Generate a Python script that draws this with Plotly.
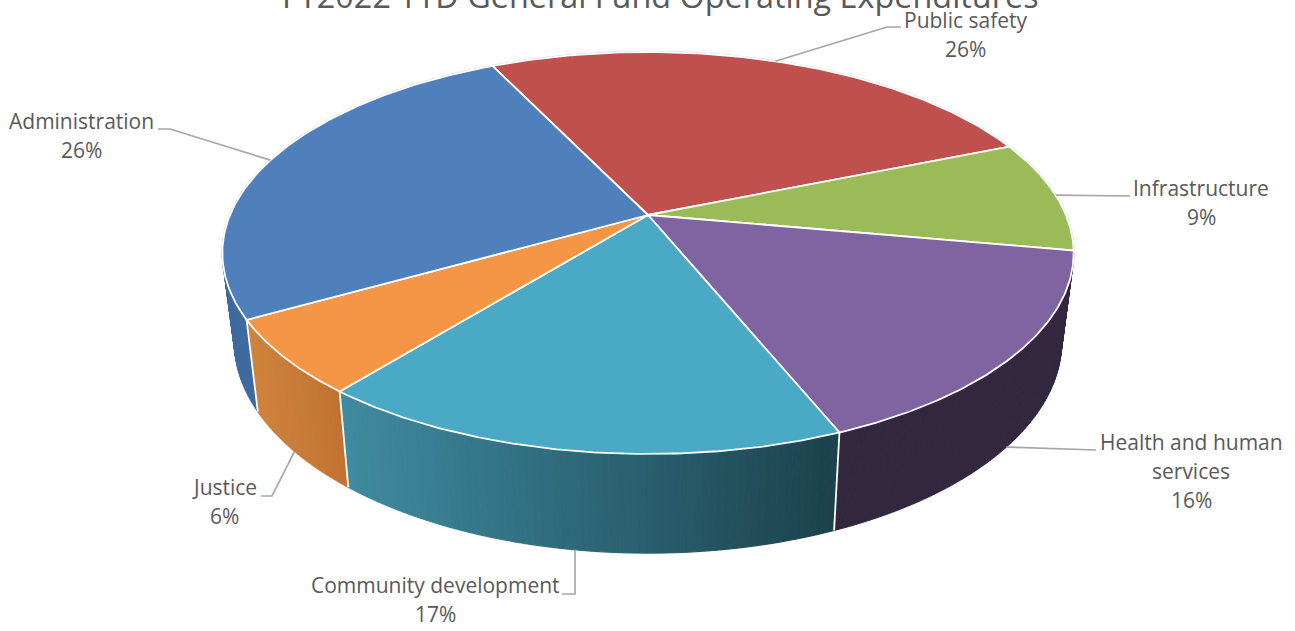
import numpy as np
import plotly.graph_objects as go

# Slices, clockwise from the boundary at the back left of the disc
categories = ["Public safety", "Infrastructure", "Health and human services",
              "Community development", "Justice", "Administration"]
shares = [26, 9, 16, 17, 6, 26]

top_colors = ["#bf504d", "#9bbb59", "#8063a1", "#4aa9c4", "#f59646", "#4f80bb"]
wall_left = ["#8a3a38", "#6f8740", "#33273f", "#3f8ba1", "#d0833c", "#40699e"]
wall_right = ["#8a3a38", "#6f8740", "#33273f", "#1b424c", "#c17232", "#3f6a9f"]

# Projection of the disc: perspective tilt about the horizontal axis
CX, CY = 648.0, 215.0
FX, FY, TILT = 418.0, 193.8, 0.189
START_DEG = -25.8
BOTTOM_SCALE_X, BOTTOM_SCALE_Y, BOTTOM_DROP = 0.972, 1.055, 86.0
VISIBLE_WALL = (100.5, 262.0)
SEAM_RANGE = (105.0, 250.0)

# Label layout: text centre of the first line, leader elbow and end, rim used by the leader
label_lines = [["Public safety"], ["Infrastructure"], ["Health and human", "services"],
               ["Community development"], ["Justice"], ["Administration"]]
label_xy = [(965, 20), (1201, 188), (1191, 442), (435, 585), (224, 487), (81, 121)]
leader_bends = [[(887, 27), (901, 27)], [(1117, 196), (1130, 196)], [(1096, 450)],
                [(575, 594), (562, 594)], [(272, 496), (261, 496)], [(170, 129), (158, 129)]]
leader_rim = ["top", "top", "bottom", "bottom", "bottom", "top"]
LINE_STEP = 29
FONT = "Open Sans"
TEXT_COLOR = "#595959"


def top_point(theta_deg):
    t = np.radians(theta_deg)
    u, v = np.sin(t), -np.cos(t)
    d = 1 - TILT * v
    return CX + FX * u / d, CY + FY * v / d


def bottom_point(theta_deg):
    x, y = top_point(theta_deg)
    return CX + BOTTOM_SCALE_X * (x - CX), CY + BOTTOM_DROP + BOTTOM_SCALE_Y * (y - CY)


def mix(c1, c2, f):
    a = [int(c1[i:i + 2], 16) for i in (1, 3, 5)]
    b = [int(c2[i:i + 2], 16) for i in (1, 3, 5)]
    return "rgb({},{},{})".format(*[round(p + (q - p) * f) for p, q in zip(a, b)])


edges = START_DEG + np.concatenate([[0], np.cumsum(shares)]) * 360 / sum(shares)
mids = (edges[:-1] + edges[1:]) / 2

fig = go.Figure()


def poly(xs, ys, fill=None, line="rgba(0,0,0,0)", width=1.0, closed=True):
    fig.add_trace(go.Scatter(
        x=list(xs), y=list(ys), mode="lines", hoverinfo="skip", showlegend=False,
        fill="toself" if closed else None, fillcolor=fill,
        line=dict(color=line, width=width),
    ))


# Hairlines around the disc and around the foot of the wall
arc = np.linspace(0, 360, 361)
rim = [top_point(a) for a in arc]
poly([p[0] for p in rim], [p[1] for p in rim], closed=False, line="#d4d4d4", width=2.4)
arc = np.linspace(*VISIBLE_WALL, 200)
foot = [bottom_point(a) for a in arc]
poly([p[0] for p in foot], [p[1] for p in foot], closed=False, line="#d4d4d4", width=2.0)

# Front wall, built from narrow strips so each slice can carry its shading
for lo, hi, c1, c2 in zip(edges[:-1], edges[1:], wall_left, wall_right):
    a0, a1 = max(lo, VISIBLE_WALL[0]), min(hi, VISIBLE_WALL[1])
    if a1 <= a0:
        continue
    steps = max(2, int((a1 - a0) / 0.8))
    cuts = np.linspace(a0, a1, steps + 1)
    x_left = bottom_point(hi)[0]
    x_right = bottom_point(lo)[0]
    for s, e in zip(cuts[:-1], cuts[1:]):
        pts = [top_point(s), top_point(e), bottom_point(e), bottom_point(s), top_point(s)]
        xm = (bottom_point(s)[0] + bottom_point(e)[0]) / 2
        f = (xm - x_left) / (x_right - x_left) if x_right != x_left else 0.0
        col = mix(c1, c2, float(np.clip(f, 0, 1)))
        poly([p[0] for p in pts], [p[1] for p in pts], fill=col, line=col, width=1.0)

# White seams where neighbouring slices meet on the wall
for a in edges:
    if SEAM_RANGE[0] <= a <= SEAM_RANGE[1]:
        p, q = top_point(a), bottom_point(a)
        poly([p[0], q[0]], [p[1], q[1]], closed=False, line="#ffffff", width=1.8)

# Top face
for lo, hi, col in zip(edges[:-1], edges[1:], top_colors):
    arc = np.linspace(lo, hi, 120)
    pts = [top_point(a) for a in arc]
    xs = [CX] + [p[0] for p in pts] + [CX]
    ys = [CY] + [p[1] for p in pts] + [CY]
    poly(xs, ys, fill=col, line="#ffffff", width=1.8)

# Leader lines run from the rim at each slice's mid angle
for mid, rim_kind, bends in zip(mids, leader_rim, leader_bends):
    start = top_point(mid) if rim_kind == "top" else bottom_point(mid)
    path = [start] + bends
    poly([p[0] for p in path], [p[1] for p in path], closed=False, line="#a6a6a6", width=1.7)

# The title sits against the top edge of the page, partly beyond it
annotations = [dict(
    text="FY2022 YTD General Fund Operating Expenditures",
    x=660, y=0, xref="x", yref="y", yanchor="middle", yshift=5, showarrow=False,
    font=dict(family=FONT, size=32.4, color=TEXT_COLOR),
)]
for lines, share, (lx, ly) in zip(label_lines, shares, label_xy):
    for i, line in enumerate(lines + [f"{share}%"]):
        annotations.append(dict(
            text=line, x=lx, y=ly + i * LINE_STEP, xref="x", yref="y", showarrow=False,
            font=dict(family=FONT, size=21, color=TEXT_COLOR),
        ))

fig.update_layout(
    width=1295, height=631, margin=dict(l=0, r=0, t=0, b=0),
    paper_bgcolor="white", plot_bgcolor="white", showlegend=False,
    xaxis=dict(range=[0, 1295], visible=False, fixedrange=True),
    yaxis=dict(range=[631, 0], visible=False, fixedrange=True),
    annotations=annotations,
)
fig.write_html("out.html", config={"displayModeBar": False})
